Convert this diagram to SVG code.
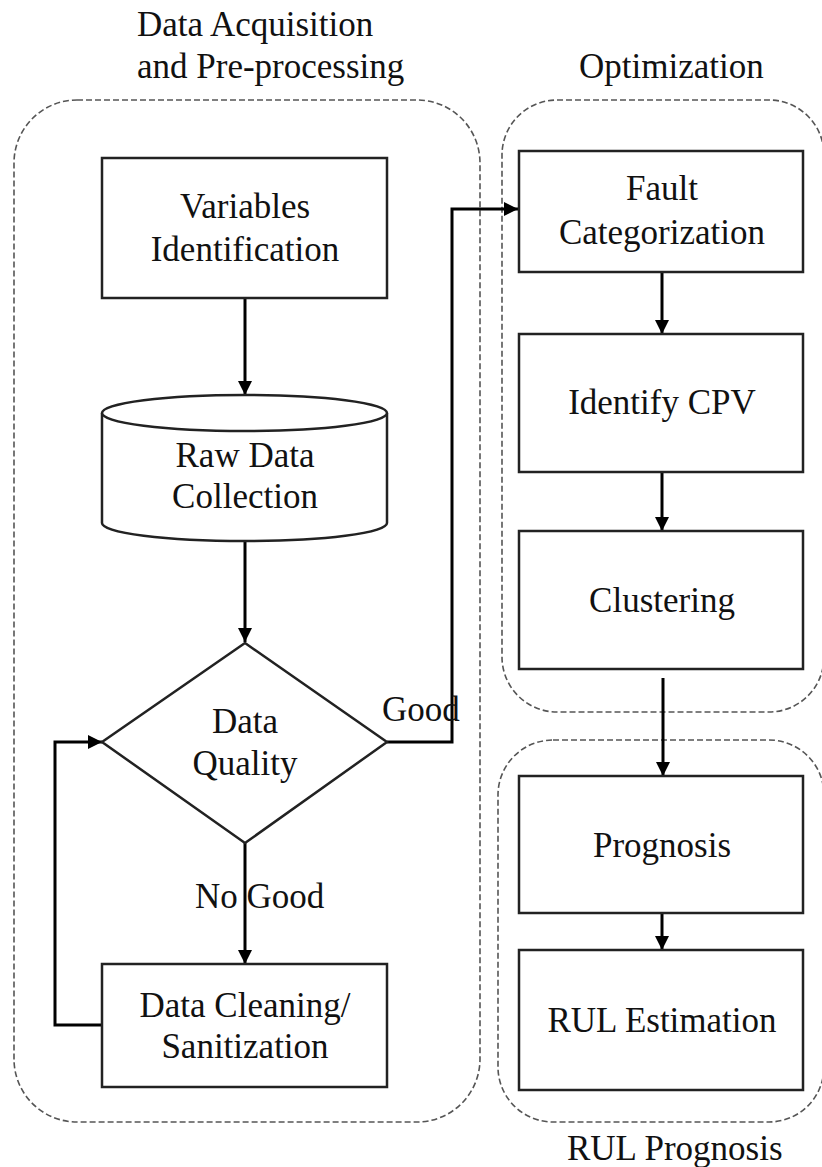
<svg xmlns="http://www.w3.org/2000/svg" width="822" height="1167" viewBox="0 0 822 1167">
  <style>
    .grp { fill: none; stroke: #555; stroke-width: 1.6; stroke-dasharray: 6 3; }
    .box { fill: #fff; stroke: #222; stroke-width: 2.5; }
    .lbl { font-family: "Liberation Serif", "Times New Roman", serif; font-size: 35px; fill: #111; }
    .mid { text-anchor: middle; }
    .conn { fill: none; stroke: #000; stroke-width: 3; }
  </style>
  <defs>
    <marker id="arr" markerUnits="userSpaceOnUse" markerWidth="14" markerHeight="14" viewBox="0 0 14 14" refX="14" refY="7" orient="auto">
      <path d="M0,0 L14,7 L0,14 Z" fill="#000"/>
    </marker>
  </defs>
  <rect width="822" height="1167" fill="#fff"/>

  <g id="group-acquisition">
    <rect class="grp" x="14" y="100" width="466" height="1022" rx="63"/>
    <text class="lbl" x="137" y="36">Data Acquisition</text>
    <text class="lbl" x="137" y="78">and Pre-processing</text>
  </g>
  <g id="group-optimization">
    <rect class="grp" x="502" y="100" width="322" height="612" rx="55"/>
    <text class="lbl" x="579" y="78">Optimization</text>
  </g>
  <g id="group-rul">
    <rect class="grp" x="498" y="740" width="326" height="382" rx="55"/>
    <text class="lbl" x="567" y="1160">RUL Prognosis</text>
  </g>

  <g id="connectors">
    <path class="conn" d="M245,298 V395" marker-end="url(#arr)"/>
    <path class="conn" d="M245,542 V642" marker-end="url(#arr)"/>
    <path class="conn" d="M245,843 V964" marker-end="url(#arr)"/>
    <path class="conn" d="M102,1025 H55 V742 H102" marker-end="url(#arr)"/>
    <path class="conn" d="M387,742 H452 V209 H518" marker-end="url(#arr)"/>
    <path class="conn" d="M662,272 V334" marker-end="url(#arr)"/>
    <path class="conn" d="M662,472 V531" marker-end="url(#arr)"/>
    <path class="conn" d="M663,678 V776" marker-end="url(#arr)"/>
    <path class="conn" d="M662,913 V950" marker-end="url(#arr)"/>
    <text class="lbl" x="382" y="721">Good</text>
    <text class="lbl" x="195" y="908">No Good</text>
  </g>

  <g id="node-variables">
    <rect class="box" x="102" y="158" width="285" height="140"/>
    <text class="lbl mid" x="245" y="218">Variables</text>
    <text class="lbl mid" x="245" y="261">Identification</text>
  </g>
  <g id="node-raw-data">
    <path class="box" d="M102,413 A142.5,18 0 0 1 387,413 L387,523 A142.5,18 0 0 1 102,523 Z"/>
    <path class="box" fill="none" d="M102,413 A142.5,18 0 0 0 387,413"/>
    <text class="lbl mid" x="245" y="467">Raw Data</text>
    <text class="lbl mid" x="245" y="508">Collection</text>
  </g>
  <g id="node-quality">
    <polygon class="box" points="245,643 387,742 245,843 102,742"/>
    <text class="lbl mid" x="245" y="733">Data</text>
    <text class="lbl mid" x="245" y="775">Quality</text>
  </g>
  <g id="node-cleaning">
    <rect class="box" x="102" y="964" width="285" height="123"/>
    <text class="lbl mid" x="245" y="1017">Data Cleaning/</text>
    <text class="lbl mid" x="245" y="1058">Sanitization</text>
  </g>
  <g id="node-fault">
    <rect class="box" x="519" y="151" width="284" height="121"/>
    <text class="lbl mid" x="662" y="200">Fault</text>
    <text class="lbl mid" x="662" y="244">Categorization</text>
  </g>
  <g id="node-cpv">
    <rect class="box" x="519" y="334" width="284" height="138"/>
    <text class="lbl mid" x="662" y="414">Identify CPV</text>
  </g>
  <g id="node-clustering">
    <rect class="box" x="519" y="531" width="284" height="138"/>
    <text class="lbl mid" x="662" y="612">Clustering</text>
  </g>
  <g id="node-prognosis">
    <rect class="box" x="519" y="776" width="284" height="137"/>
    <text class="lbl mid" x="662" y="857">Prognosis</text>
  </g>
  <g id="node-rul">
    <rect class="box" x="519" y="950" width="284" height="140"/>
    <text class="lbl mid" x="662" y="1032">RUL Estimation</text>
  </g>
</svg>
